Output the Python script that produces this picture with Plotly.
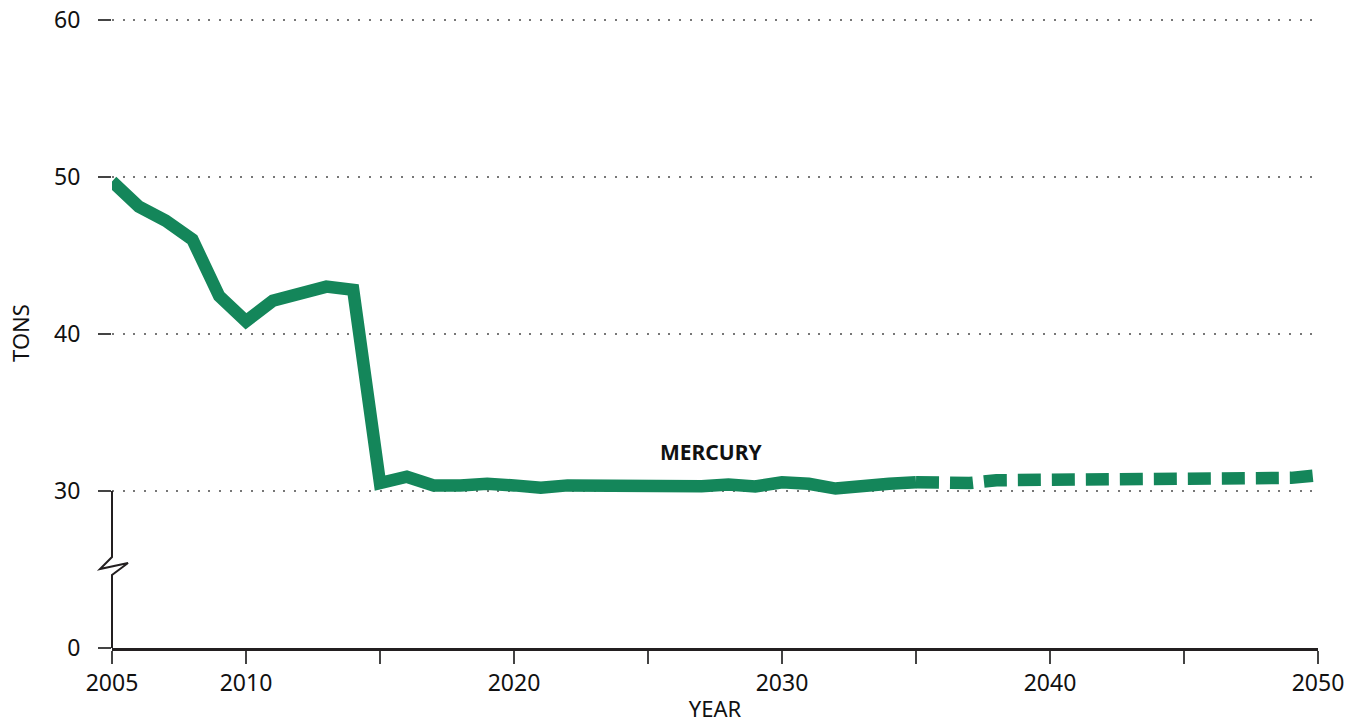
import plotly.graph_objects as go

# Historical (solid) and projected (dashed) mercury emissions, tons
years_hist = list(range(2005, 2036))
tons_hist = [49.7, 48.1, 47.2, 46.0, 42.4, 40.8, 42.1, 42.5, 43.0, 42.8,
             30.5, 30.9, 30.35, 30.35, 30.45, 30.35, 30.2, 30.35, 30.35, 30.2,
             30.35, 30.2, 30.3, 30.4, 30.28, 30.55, 30.45, 30.15, 30.4, 30.45, 30.55]
years_proj = list(range(2035, 2051))
tons_proj = [30.55, 30.5, 30.5, 30.68, 30.68, 30.68, 30.68, 30.68, 30.68,
             30.83, 30.83, 30.83, 30.83, 30.83, 30.83, 31.0]

x_tickvals = [2005, 2010, 2015, 2020, 2025, 2030, 2035, 2040, 2045, 2050]
x_ticktext = ["2005", "2010", "", "2020", "", "2030", "", "2040", "", "2050"]
# broken y axis: bottom position shows "0"
y_tickvals = [20, 30, 40, 50, 60]
y_ticktext = ["0", "30", "40", "50", "60"]

GREEN = "#14865a"
INK = "#231f20"
FONT = "Noto Sans"
Y_MIN, Y_MAX = 20, 60.1

fig = go.Figure()
fig.add_trace(go.Scatter(x=years_hist, y=tons_hist, mode="lines",
                         line=dict(color=GREEN, width=12.5),
                         hoverinfo="skip", showlegend=False))
fig.add_trace(go.Scatter(x=years_proj, y=tons_proj, mode="lines",
                         line=dict(color=GREEN, width=12.5, dash="23px,11px"),
                         hoverinfo="skip", showlegend=False))

fig.add_annotation(x=2027.35, y=32.5, text="<b>MERCURY</b>", showarrow=False,
                   font=dict(family=FONT, size=21, color="#111"))

W, H = 1364, 723
ml, mr, mt, mb = 112, 46, 18, 75
pw, ph = W - ml - mr, H - mt - mb

def px(dx):
    return dx / pw

def py(dy):
    return dy / ph

# lower y-axis segment (0 to 30) with break zigzag, in paper coords
y30 = (30 - Y_MIN) / (Y_MAX - Y_MIN)
path = (f"M 0 0 L 0 {py(73)} L {px(16)} {py(85)} L {px(-12)} {py(79)} "
        f"L 0 {py(91)} L 0 {y30}")
fig.add_shape(type="path", xref="paper", yref="paper", path=path,
              line=dict(color=INK, width=2), layer="above")

fig.update_layout(
    width=W, height=H,
    margin=dict(l=ml, r=mr, t=mt, b=mb, autoexpand=False),
    paper_bgcolor="white", plot_bgcolor="white",
    font=dict(family=FONT, size=23, color="#111"),
    xaxis=dict(range=[2005, 2050], tickvals=x_tickvals, ticktext=x_ticktext,
               showgrid=False, zeroline=False, showline=True, linecolor=INK,
               linewidth=2.5, ticks="outside", ticklen=13, tickwidth=1.5,
               tickcolor="#444", title=dict(text="YEAR", standoff=8,
               font=dict(size=22)), tickfont=dict(size=23),
               ticklabeloverflow="allow", automargin=False),
    yaxis=dict(range=[Y_MIN, Y_MAX], tickvals=y_tickvals, ticktext=y_ticktext,
               showgrid=True, gridcolor="#777", gridwidth=2,
               griddash="2px,8.7px", zeroline=False, showline=False,
               ticks="outside", ticklen=13, tickwidth=1.5, tickcolor="#444",
               ticklabelstandoff=13, ticklabeloverflow="allow", automargin=False,
               title=dict(text="TONS", standoff=18, font=dict(size=22)),
               tickfont=dict(size=23)),
)

fig.write_html("out.html", config={"displayModeBar": False},
               post_script="document.body.style.margin='0';document.body.style.overflow='hidden';")
